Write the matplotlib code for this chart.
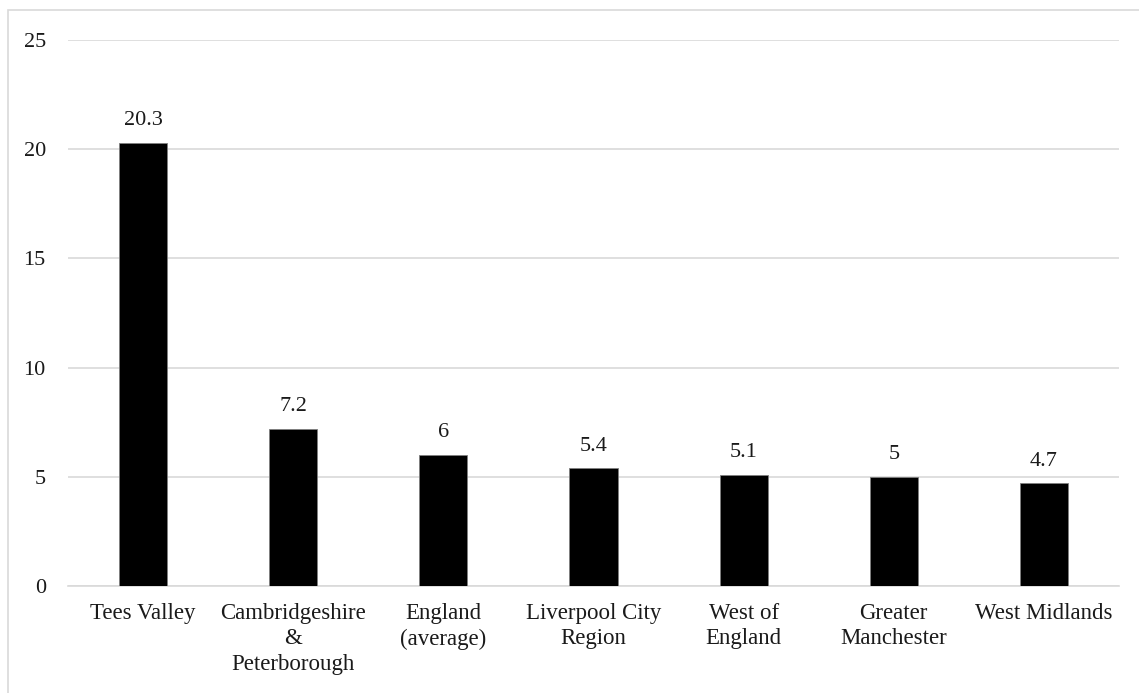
import numpy as np
import matplotlib.pyplot as plt
from matplotlib.patches import Rectangle

regions = ['Tees Valley', 'Cambridgeshire\n&\nPeterborough', 'England\n(average)',
           'Liverpool City\nRegion', 'West of\nEngland', 'Greater\nManchester', 'West Midlands']
values = [20.3, 7.2, 6, 5.4, 5.1, 5, 4.7]
labels = ['20.3', '7.2', '6', '5.4', '5.1', '5', '4.7']
yticks = [0, 5, 10, 15, 20, 25]

plt.rcParams['font.family'] = ['Liberation Serif', 'DejaVu Serif']

fig = plt.figure(figsize=(11.39, 6.93), dpi=100)
ax = fig.add_axes([68/1139, 107/693, (1119-68)/1139, (586-40)/693])

x = np.arange(len(regions))
bars = ax.bar(x, values, width=0.32, color='black', edgecolor='#7f7f7f', linewidth=0.6, zorder=3)

for b, lab in zip(bars, labels):
    ax.annotate(lab, (b.get_x() + b.get_width()/2, b.get_height()),
                xytext=(0, 9), textcoords='offset points',
                ha='center', va='bottom', fontsize=16, color='#1a1a1a')

ax.set_xlim(-0.5, len(regions) - 0.5)
ax.set_ylim(0, 25)
ax.set_yticks(yticks)
ax.set_xticks(x)
ax.set_xticklabels(regions, fontsize=16.5, color='#1a1a1a', linespacing=1.3)
ax.tick_params(axis='y', length=0, pad=16, labelsize=16, labelcolor='#1a1a1a')
ax.tick_params(axis='x', length=0, pad=12)
ax.grid(True, axis='y', color='#d9d9d9', linewidth=1.2, zorder=0)
for s in ['top', 'right', 'left']:
    ax.spines[s].set_visible(False)
ax.spines['bottom'].set_color('#d9d9d9')
ax.spines['bottom'].set_linewidth(1.2)

# light frame round the chart
fig.patches.append(Rectangle((7.5/1139, -0.05), 1.1, 1 - 10.5/693 + 0.05,
                             transform=fig.transFigure, fill=False,
                             edgecolor='#d9d9d9', linewidth=1.2))

fig.savefig('out.png', dpi=100)
